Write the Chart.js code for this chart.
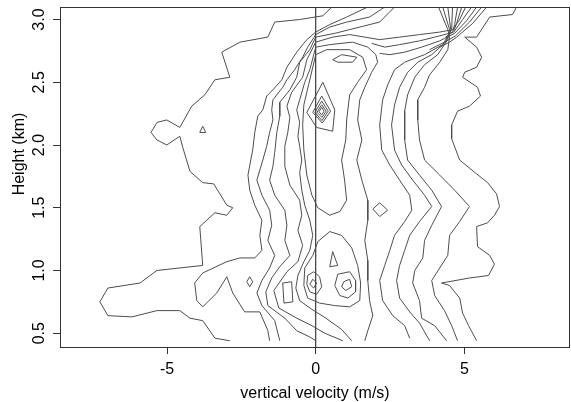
<!DOCTYPE html>
<html>
<head>
<meta charset="utf-8">
<script src="https://cdn.jsdelivr.net/npm/chart.js@4.4.1/dist/chart.umd.min.js"></script>
<style>
  html, body { margin: 0; padding: 0; background: #fff; }
  canvas { display: block; }
</style>
</head>
<body>
<canvas id="c" width="571" height="402"></canvas>
<script>
// axis setup
var xTickValues = [-5, 0, 5];
var yTickValues = [0.5, 1.0, 1.5, 2.0, 2.5, 3.0];
var xLimits = [-8.6, 8.55];
var yLimits = [0.39, 3.1];
var zeroLineX = 0;

// contour lines, [velocity, height] pairs
var contourOuterLeft = [[0.54,3.10],[0.24,3.03],[-0.54,3.00],[-1.38,2.98],[-1.61,2.86],[-2.55,2.82],[-3.16,2.74],[-2.89,2.54],[-3.39,2.52],[-3.73,2.40],[-4.17,2.31],[-4.57,2.14],[-5.01,2.20],[-5.34,2.18],[-5.54,2.10],[-5.34,2.04],[-5.01,2.00],[-4.57,2.07],[-4.47,1.98],[-4.23,1.79],[-3.80,1.70],[-3.43,1.69],[-2.99,1.52],[-2.79,1.50],[-2.99,1.44],[-3.39,1.46],[-3.90,1.35],[-3.80,1.04],[-5.34,1.00],[-5.91,0.90],[-6.99,0.86],[-7.26,0.75],[-6.99,0.64],[-6.18,0.63],[-5.34,0.68],[-4.57,0.68],[-4.23,0.62],[-3.80,0.60],[-3.39,0.46],[-2.89,0.44]];
var contourOuterRight = [[6.75,3.10],[6.62,3.04],[5.85,3.02],[5.41,2.86],[5.01,2.86],[5.41,2.78],[5.58,2.70],[5.41,2.62],[5.01,2.58],[4.94,2.54],[5.44,2.46],[5.54,2.39],[5.17,2.31],[4.77,2.27],[4.57,2.16],[4.57,2.05],[4.84,1.88],[5.41,1.77],[5.78,1.70],[6.08,1.61],[6.18,1.51],[6.01,1.44],[5.78,1.38],[5.41,1.35],[5.44,1.19],[5.85,1.12],[6.01,1.05],[5.81,0.96],[5.17,0.94],[4.23,0.90],[4.50,0.88],[4.84,0.78],[4.94,0.66],[5.14,0.56],[5.41,0.44]];
var contourB = [[-1.55,0.44],[-1.61,0.52],[-1.88,0.67],[-2.39,0.67],[-2.79,0.82],[-2.99,0.95],[-3.33,0.82],[-3.80,0.71],[-4.00,0.76],[-4.07,0.90],[-3.80,0.98],[-2.99,1.07],[-2.55,1.10],[-2.05,1.10],[-1.81,1.16],[-1.88,1.28],[-1.81,1.40],[-2.05,1.52],[-2.22,1.64],[-2.28,1.76],[-2.12,1.96],[-2.05,2.10],[-1.95,2.23],[-1.78,2.28],[-1.65,2.39],[-1.44,2.44],[-1.14,2.52],[-0.97,2.62],[-0.64,2.74],[-0.30,2.84],[0,2.90],[0.47,2.96],[1.04,3.02],[1.75,3.10]];
var contourC = [[2.32,3.10],[1.81,3.02],[1.04,2.98],[0.47,2.94],[0,2.88],[-0.27,2.78],[-0.44,2.70],[-0.71,2.60],[-0.97,2.52],[-1.11,2.46],[-1.44,2.36],[-1.48,2.28],[-1.44,2.20],[-1.55,2.10],[-1.65,1.99],[-1.78,1.88],[-1.98,1.72],[-1.81,1.60],[-1.55,1.48],[-1.48,1.36],[-1.61,1.24],[-1.38,1.12],[-1.55,1.02],[-1.81,0.92],[-1.98,0.82],[-1.81,0.72],[-1.38,0.60],[-1.21,0.44]];
var contourD = [[2.65,3.10],[2.15,2.98],[1.48,2.94],[0.64,2.89],[0,2.86],[-0.20,2.76],[-0.54,2.66],[-0.64,2.54],[-0.87,2.44],[-1.21,2.34],[-1.21,2.23],[-1.31,2.10],[-1.38,1.94],[-1.44,1.83],[-1.55,1.72],[-1.38,1.60],[-1.04,1.48],[-0.97,1.36],[-1.04,1.24],[-0.87,1.12],[-1.21,1.03],[-1.48,0.94],[-1.68,0.83],[-1.61,0.72],[-1.04,0.62],[-0.64,0.52],[-0.20,0.47],[0,0.44]];
var contourE = [[0.91,0.44],[0.30,0.50],[-0.13,0.56],[-0.64,0.62],[-1.24,0.70],[-1.41,0.84],[-0.97,0.99],[-0.60,1.07],[-0.44,1.20],[-0.60,1.32],[-0.47,1.44],[-0.54,1.56],[-0.87,1.68],[-1.04,1.83],[-1.04,1.99],[-0.94,2.10],[-0.87,2.22],[-0.97,2.31],[-0.81,2.42],[-0.44,2.54],[-0.30,2.68],[0,2.82],[0.57,2.86],[1.14,2.88],[1.65,2.86],[2.15,2.84],[2.82,2.86],[3.49,2.88],[4.17,2.90],[4.60,2.92],[4.84,3.00],[5.04,3.10]];
var contourF = [[1.21,0.44],[0.87,0.53],[0.34,0.62],[-0.13,0.69],[-0.54,0.76],[-0.67,0.86],[-0.60,0.96],[-0.40,1.07],[-0.20,1.16],[-0.10,1.28],[-0.20,1.40],[-0.37,1.52],[-0.47,1.64],[-0.54,1.78],[-0.47,1.88],[-0.54,1.99],[-0.60,2.07],[-0.54,2.18],[-0.64,2.28],[-0.54,2.36],[-0.37,2.50],[-0.20,2.60],[0,2.78],[0.47,2.80],[1.24,2.82],[1.75,2.78],[2.02,2.72],[2.08,2.66],[1.88,2.58],[1.65,2.46],[1.48,2.36],[1.41,2.20],[1.55,2.04],[1.38,1.88],[1.55,1.72],[1.75,1.56],[1.75,1.40],[1.65,1.24],[1.75,1.08],[1.75,0.92],[1.81,0.76],[1.92,0.64],[1.75,0.52],[1.65,0.44]];
var contourG = [[0,2.72],[0.37,2.76],[1.14,2.76],[1.58,2.70],[1.71,2.60],[1.41,2.50],[1.14,2.40],[1.04,2.20],[1.01,2.04],[0.87,1.88],[0.97,1.72],[1.04,1.56],[0.81,1.47],[0.47,1.44],[0.07,1.50],[-0.13,1.60],[-0.30,1.76],[-0.40,1.96],[-0.44,2.16],[-0.40,2.32],[-0.24,2.48],[-0.10,2.62],[0,2.72]];
var contourTeardrop = [[0.24,2.50],[0.64,2.28],[0.57,2.11],[0.03,2.14],[-0.30,2.26],[0.24,2.50]];
var peakRing1 = [[0.20,2.39],[0.50,2.27],[0.22,2.175],[-0.10,2.26],[0.20,2.39]];
var peakRing2 = [[0.20,2.35],[0.42,2.27],[0.21,2.195],[-0.03,2.26],[0.20,2.35]];
var peakRing3 = [[0.20,2.32],[0.35,2.27],[0.21,2.22],[0.04,2.26],[0.20,2.32]];
var peakRing4 = [[0.20,2.30],[0.28,2.27],[0.20,2.24],[0.11,2.265],[0.20,2.30]];
var contourOval = [[0.57,2.68],[0.87,2.72],[1.38,2.70],[1.24,2.66],[0.74,2.66],[0.57,2.68]];
var contourR1 = [[4.13,3.10],[4.44,2.92],[4.50,2.86],[4.44,2.76],[4.17,2.66],[3.83,2.56],[3.66,2.46],[3.43,2.36],[3.43,2.20],[3.49,2.04],[3.66,1.88],[4.17,1.76],[4.67,1.64],[5.17,1.51],[4.84,1.39],[4.50,1.28],[4.44,1.12],[4.17,1.02],[3.90,0.92],[4.00,0.80],[4.33,0.68],[4.57,0.56],[4.77,0.44]];
var contourR2 = [[4.27,3.10],[4.50,2.92],[4.44,2.84],[4.10,2.72],[3.66,2.64],[3.33,2.54],[3.09,2.40],[2.99,2.27],[2.99,2.04],[3.09,1.88],[3.49,1.76],[3.90,1.64],[4.23,1.51],[3.90,1.36],[3.66,1.24],[3.60,1.10],[3.33,1.00],[3.26,0.90],[3.49,0.76],[3.56,0.62],[4.00,0.56],[4.40,0.44]];
var contourR3 = [[4.44,3.10],[4.54,2.92],[4.37,2.82],[3.90,2.72],[3.43,2.66],[3.09,2.58],[2.82,2.46],[2.65,2.32],[2.55,2.16],[2.65,1.96],[2.89,1.84],[3.26,1.72],[3.66,1.60],[3.90,1.51],[3.49,1.39],[3.16,1.28],[2.99,1.16],[2.82,1.04],[2.72,0.92],[2.82,0.78],[3.16,0.67],[3.49,0.58],[3.83,0.44]];
var contourR4 = [[4.60,3.10],[4.57,2.92],[4.27,2.80],[3.66,2.72],[2.99,2.66],[2.65,2.60],[2.42,2.48],[2.25,2.36],[2.15,2.16],[2.22,1.96],[2.49,1.84],[2.82,1.72],[3.16,1.60],[3.23,1.48],[2.99,1.39],[2.65,1.28],[2.49,1.16],[2.32,1.04],[2.15,0.92],[2.25,0.76],[2.59,0.64],[2.99,0.56],[3.16,0.46]];
var contourBand1 = [[1.88,2.81],[2.32,2.78],[2.82,2.80],[3.49,2.83],[4.17,2.87],[4.64,2.90],[4.94,3.00],[5.24,3.10]];
var contourBand2 = [[2.15,2.73],[2.49,2.72],[2.99,2.74],[3.56,2.78],[4.17,2.83],[4.67,2.89],[5.07,2.99],[5.41,3.10]];
var contourBand3 = [[3.83,2.76],[4.33,2.82],[4.70,2.87],[5.17,2.98],[5.58,3.10]];
var contourBand4 = [[4.17,2.78],[4.50,2.82],[4.74,2.86],[5.28,2.97],[5.75,3.10]];
var contourFan5 = [[4.77,3.10],[4.67,2.96],[4.60,2.90],[4.37,2.86]];
var contourFan6 = [[4.91,3.10],[4.74,2.97],[4.64,2.91]];
var contourLowArch = [[-0.40,0.88],[-0.37,1.02],[-0.10,1.12],[0.07,1.23],[0.47,1.31],[0.87,1.28],[1.21,1.18],[1.41,1.04],[1.51,0.90],[1.48,0.76],[1.14,0.71],[0.64,0.72],[0.13,0.74],[-0.27,0.78],[-0.40,0.88]];
var loopRect = [[-1.11,0.90],[-0.81,0.91],[-0.77,0.75],[-1.07,0.74],[-1.11,0.90]];
var loopCenterPeak = [[-0.10,0.93],[0.03,0.90],[-0.07,0.86],[-0.20,0.89],[-0.10,0.93]];
var loopCenterRing = [[-0.27,0.96],[-0.07,0.99],[0.13,0.95],[0.20,0.87],[0.03,0.81],[-0.20,0.83],[-0.30,0.89],[-0.27,0.96]];
var loopRightPeak = [[0.94,0.91],[1.14,0.93],[1.21,0.87],[1.01,0.84],[0.87,0.87],[0.94,0.91]];
var loopRightRing = [[0.74,0.97],[1.14,0.99],[1.34,0.92],[1.34,0.83],[1.08,0.78],[0.81,0.80],[0.64,0.88],[0.74,0.97]];
var loopSmallTear = [[0.57,1.15],[0.74,1.04],[0.47,1.03],[0.57,1.15]];
var loopMidDiamond = [[2.15,1.54],[2.42,1.48],[2.15,1.43],[1.92,1.49],[2.15,1.54]];
var loopLeftDiamond = [[-2.22,0.95],[-2.12,0.91],[-2.22,0.87],[-2.32,0.91],[-2.22,0.95]];
var loopLeftTriangle = [[-3.80,2.15],[-3.70,2.10],[-3.90,2.10],[-3.80,2.15]];

var contourLines = [contourOuterLeft, contourOuterRight, contourB, contourC, contourD, contourE, contourF, contourG,
  contourTeardrop, peakRing1, peakRing2, peakRing3, peakRing4, contourOval,
  contourR1, contourR2, contourR3, contourR4, contourBand1, contourBand2, contourBand3, contourBand4, contourFan5, contourFan6,
  contourLowArch, loopRect, loopCenterPeak, loopCenterRing, loopRightPeak, loopRightRing, loopSmallTear, loopMidDiamond, loopLeftDiamond, loopLeftTriangle];

var lineColor = '#4d4d4d';
var font = '"Liberation Sans", Arial, sans-serif';

var datasets = contourLines.map(function (pts) {
  return {
    data: pts.map(function (p) { return { x: p[0], y: p[1] }; }),
    showLine: true,
    borderColor: lineColor,
    borderWidth: 1,
    pointRadius: 0,
    tension: 0,
    fill: false
  };
});
datasets.push({
  data: [{ x: zeroLineX, y: yLimits[0] }, { x: zeroLineX, y: yLimits[1] }],
  showLine: true,
  borderColor: '#111',
  borderWidth: 1,
  pointRadius: 0
});

var framePlugin = {
  id: 'frame',
  afterDraw: function (chart) {
    var ctx = chart.ctx, a = chart.chartArea, ys = chart.scales.y;
    ctx.save();
    ctx.strokeStyle = '#333';
    ctx.lineWidth = 1;
    ctx.strokeRect(a.left + 0.5, a.top + 0.5, a.right - a.left - 1, a.bottom - a.top);
    ctx.fillStyle = '#000';
    ctx.font = '16px ' + font;
    ctx.textAlign = 'center';
    ctx.textBaseline = 'middle';
    yTickValues.forEach(function (v) {
      var py = ys.getPixelForValue(v);
      ctx.save();
      ctx.translate(40, py);
      ctx.rotate(-Math.PI / 2);
      ctx.fillText(v.toFixed(1), 0, 0);
      ctx.restore();
    });
    ctx.save();
    ctx.translate(20, 154);
    ctx.rotate(-Math.PI / 2);
    ctx.fillText('Height (km)', 0, 0);
    ctx.restore();
    ctx.fillText('vertical velocity (m/s)', (a.left + a.right) / 2, 394);
    ctx.restore();
  }
};

new Chart(document.getElementById('c'), {
  type: 'scatter',
  data: { datasets: datasets },
  options: {
    responsive: false,
    animation: false,
    devicePixelRatio: 1,
    layout: { padding: { top: 7, right: 1, left: 0, bottom: 0 } },
    plugins: { legend: { display: false }, tooltip: { enabled: false } },
    scales: {
      x: {
        type: 'linear', min: xLimits[0], max: xLimits[1],
        afterBuildTicks: function (s) { s.ticks = xTickValues.map(function (v) { return { value: v }; }); },
        afterFit: function (s) { s.height = 55; },
        grid: { display: true, drawOnChartArea: false, drawTicks: true, tickLength: 7, color: '#333' },
        border: { display: false },
        ticks: { color: '#000', font: { family: font, size: 16 }, padding: 6, maxRotation: 0, callback: function (v) { return String(v); } }
      },
      y: {
        type: 'linear', min: yLimits[0], max: yLimits[1],
        afterBuildTicks: function (s) { s.ticks = yTickValues.map(function (v) { return { value: v }; }); },
        afterFit: function (s) { s.width = 60; },
        grid: { display: true, drawOnChartArea: false, drawTicks: true, tickLength: 7, color: '#333' },
        border: { display: false },
        ticks: { display: false }
      }
    }
  },
  plugins: [framePlugin]
});
</script>
</body>
</html>
